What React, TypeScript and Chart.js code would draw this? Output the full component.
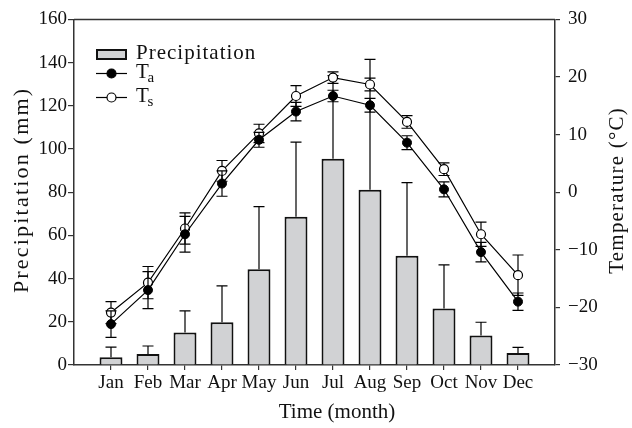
import React, { useEffect, useRef } from "react";
import { Chart, registerables } from "chart.js";

Chart.register(...registerables);

const months = ["Jan", "Feb", "Mar", "Apr", "May", "Jun", "Jul", "Aug", "Sep", "Oct", "Nov", "Dec"];
const precipMean = [3.6, 5.1, 15.0, 19.8, 44.3, 68.6, 95.5, 81.1, 50.6, 26.1, 13.6, 5.6];
const precipSD = [4.7, 3.7, 10.1, 16.8, 29.0, 34.6, 38.5, 60.4, 33.8, 20.3, 6.2, 2.6];
const taMean = [-22.9, -17.0, -7.3, 1.5, 9.1, 14.0, 16.7, 15.1, 8.6, 0.5, -10.4, -19.0];
const taSD = [2.3, 3.2, 3.1, 2.2, 1.3, 1.6, 1.0, 1.2, 1.2, 1.3, 1.7, 1.5];
const tsMean = [-20.9, -15.7, -6.3, 3.7, 10.2, 16.7, 19.9, 18.7, 12.2, 4.0, -7.3, -14.4];
const tsSD = [1.9, 2.8, 2.7, 1.8, 1.6, 1.8, 1.0, 1.1, 1.1, 1.1, 2.1, 3.5];
const precipTicks = [0, 20, 40, 60, 80, 100, 120, 140, 160];
const tempTicks = [-30, -20, -10, 0, 10, 20, 30];

const FONT = "'Liberation Serif', 'Times New Roman', serif";
const AXIS = "#333";
const BAR_FILL = "#d1d2d4";

function drawErrors(chart: any, index: number, upOnly: boolean) {
  const ds = chart.data.datasets[index];
  const meta = chart.getDatasetMeta(index);
  const yScale = chart.scales[meta.yAxisID];
  const ctx = chart.ctx;
  ctx.save();
  ctx.strokeStyle = "#000";
  ctx.lineWidth = 1.2;
  meta.data.forEach((el: any, j: number) => {
    const mean = ds.means[j];
    const sd = ds.errors[j];
    const x = el.x;
    const yTop = yScale.getPixelForValue(mean + sd);
    const yBot = upOnly ? yScale.getPixelForValue(mean) : yScale.getPixelForValue(mean - sd);
    ctx.beginPath();
    ctx.moveTo(x, yTop);
    ctx.lineTo(x, yBot);
    ctx.moveTo(x - 5.5, yTop);
    ctx.lineTo(x + 5.5, yTop);
    if (!upOnly) {
      ctx.moveTo(x - 5.5, yBot);
      ctx.lineTo(x + 5.5, yBot);
    }
    ctx.stroke();
  });
  ctx.restore();
}

const errorBarPlugin = {
  id: "errorBars",
  beforeDatasetDraw(chart: any, args: any) {
    const ds = chart.data.datasets[args.index];
    if (ds.type === "line") drawErrors(chart, args.index, false);
  },
  afterDatasetDraw(chart: any, args: any) {
    const ds = chart.data.datasets[args.index];
    if (ds.type === "bar") drawErrors(chart, args.index, true);
  },
};

function spacedText(ctx: any, text: string, x: number, y: number, spacing: number) {
  ctx.letterSpacing = `${spacing}px`;
  ctx.fillText(text, x + spacing / 2, y);
  ctx.letterSpacing = "0px";
}

const decorPlugin = {
  id: "decor",
  afterDraw(chart: any) {
    const ctx = chart.ctx;
    const a = chart.chartArea;
    ctx.save();
    // top frame line
    ctx.strokeStyle = AXIS;
    ctx.lineWidth = 1.5;
    ctx.beginPath();
    ctx.moveTo(a.left, a.top);
    ctx.lineTo(a.right, a.top);
    ctx.stroke();

    // axis titles
    ctx.fillStyle = "#111";
    ctx.textAlign = "center";
    ctx.textBaseline = "middle";
    ctx.font = `22px ${FONT}`;
    ctx.save();
    ctx.translate(22, 191);
    ctx.rotate(-Math.PI / 2);
    spacedText(ctx, "Precipitation (mm)", 0, 0, 2.2);
    ctx.restore();
    ctx.font = `21px ${FONT}`;
    ctx.save();
    ctx.translate(617, 191);
    ctx.rotate(-Math.PI / 2);
    spacedText(ctx, "Temperature (°C)", 0, 0, 1.2);
    ctx.restore();
    ctx.textBaseline = "alphabetic";
    ctx.fillText("Time (month)", 337, 418);

    // legend
    const lx = 97;
    const lw = 29;
    ctx.fillStyle = BAR_FILL;
    ctx.strokeStyle = "#111";
    ctx.lineWidth = 2;
    ctx.fillRect(lx, 50, lw, 9);
    ctx.strokeRect(lx, 50, lw, 9);
    ctx.lineWidth = 1.2;
    ctx.strokeStyle = "#000";
    [73.5, 97.5].forEach((y, k) => {
      ctx.beginPath();
      ctx.moveTo(lx - 1, y);
      ctx.lineTo(lx + lw + 1, y);
      ctx.stroke();
      ctx.beginPath();
      ctx.arc(lx + lw / 2, y, 4.5, 0, Math.PI * 2);
      ctx.fillStyle = k === 0 ? "#000" : "#fff";
      ctx.fill();
      ctx.stroke();
    });
    ctx.fillStyle = "#111";
    ctx.textAlign = "left";
    ctx.font = `21px ${FONT}`;
    ctx.letterSpacing = "1px";
    ctx.fillText("Precipitation", 136, 58.5);
    ctx.letterSpacing = "0px";
    ctx.fillText("T", 136, 78);
    ctx.fillText("T", 136, 102);
    ctx.font = `15px ${FONT}`;
    ctx.fillText("a", 147.5, 82);
    ctx.fillText("s", 147.5, 105.5);
    ctx.restore();
  },
};

export default function App() {
  const ref = useRef<HTMLCanvasElement>(null);
  useEffect(() => {
    if (!ref.current) return;
    const tickFont = { family: FONT, size: 19 };
    const chart = new Chart(ref.current, {
      type: "bar",
      data: {
        datasets: [
          {
            type: "line",
            label: "Ta",
            data: taMean.map((v, i) => ({ x: i + 1, y: v })),
            means: taMean,
            errors: taSD,
            yAxisID: "y1",
            borderColor: "#000",
            borderWidth: 1.2,
            pointRadius: 4.5,
            pointBackgroundColor: "#000",
            pointBorderColor: "#000",
            pointBorderWidth: 1,
            order: 1,
          } as any,
          {
            type: "line",
            label: "Ts",
            data: tsMean.map((v, i) => ({ x: i + 1, y: v })),
            means: tsMean,
            errors: tsSD,
            yAxisID: "y1",
            borderColor: "#000",
            borderWidth: 1.2,
            pointRadius: 4.5,
            pointBackgroundColor: "#fff",
            pointBorderColor: "#000",
            pointBorderWidth: 1.2,
            order: 2,
          } as any,
          {
            type: "bar",
            label: "Precipitation",
            data: precipMean.map((v, i) => ({ x: i + 1, y: v })),
            means: precipMean,
            errors: precipSD,
            yAxisID: "y",
            backgroundColor: BAR_FILL,
            borderColor: "#111",
            borderWidth: 2,
            borderSkipped: "bottom",
            categoryPercentage: 1,
            barPercentage: 0.62,
            order: 3,
          } as any,
        ],
      },
      options: {
        animation: false,
        responsive: false,
        devicePixelRatio: 1,
        layout: { padding: { top: 19, left: 0, right: 0, bottom: 0 } },
        plugins: { legend: { display: false }, tooltip: { enabled: false } },
        scales: {
          x: {
            type: "linear",
            offset: false,
            min: 0,
            max: 13,
            afterBuildTicks: (s: any) => {
              s.ticks = months.map((_, i) => ({ value: i + 1 }));
            },
            afterFit: (s: any) => {
              s.height = 63;
            },
            ticks: {
              callback: (v: any) => months[Number(v) - 1] ?? "",
              autoSkip: false,
              maxRotation: 0,
              minRotation: 0,
              color: "#111",
              font: tickFont,
              padding: 2,
            },
            grid: { offset: false, drawOnChartArea: false, drawTicks: true, tickLength: 5, color: AXIS, lineWidth: 1.2 },
            border: { display: true, color: AXIS, width: 1.5 },
          },
          y: {
            type: "linear",
            position: "left",
            min: 0,
            max: 160,
            afterBuildTicks: (s: any) => {
              s.ticks = precipTicks.map((v) => ({ value: v }));
            },
            afterFit: (s: any) => {
              s.width = 74;
            },
            ticks: { color: "#111", font: tickFont, padding: 1 },
            grid: { drawOnChartArea: false, drawTicks: true, tickLength: 6, color: AXIS, lineWidth: 1.2 },
            border: { display: true, color: AXIS, width: 1.5 },
          },
          y1: {
            type: "linear",
            position: "right",
            min: -30,
            max: 30,
            afterBuildTicks: (s: any) => {
              s.ticks = tempTicks.map((v) => ({ value: v }));
            },
            afterFit: (s: any) => {
              s.width = 77;
            },
            ticks: {
              color: "#111",
              font: tickFont,
              padding: 8,
              callback: (v: any) => (Number(v) < 0 ? "\u2212" + Math.abs(Number(v)) : String(v)),
            },
            grid: { drawOnChartArea: false, drawTicks: true, tickLength: 5, color: AXIS, lineWidth: 1.2 },
            border: { display: true, color: AXIS, width: 1.5 },
          },
        },
      } as any,
      plugins: [errorBarPlugin, decorPlugin],
    });
    return () => chart.destroy();
  }, []);
  return (
    <div style={{ position: "fixed", left: 0, top: 0, width: 632, height: 428, background: "#fff" }}>
      <canvas ref={ref} width={632} height={428} style={{ display: "block" }} />
    </div>
  );
}
